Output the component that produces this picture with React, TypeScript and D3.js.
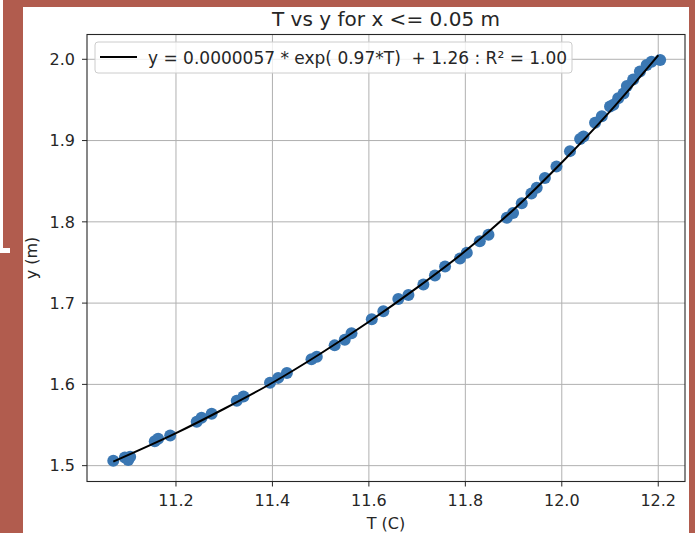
import React from "react";
import * as d3 from "d3";

// Measured temperature T (C) and height y (m)
const tempValues: number[] = [
  11.07, 11.094, 11.101, 11.105, 11.156, 11.163, 11.188, 11.243, 11.253, 11.274,
  11.326, 11.34, 11.395, 11.412, 11.43, 11.481, 11.492, 11.529, 11.55, 11.564,
  11.606, 11.63, 11.661, 11.682, 11.713, 11.737, 11.758, 11.789, 11.803, 11.83,
  11.848, 11.886, 11.899, 11.917, 11.937, 11.948, 11.965, 11.989, 12.017, 12.038,
  12.045, 12.069, 12.083, 12.1, 12.107, 12.117, 12.128, 12.135, 12.148, 12.162,
  12.176, 12.186, 12.204,
];
const heightValues: number[] = [
  1.506, 1.51, 1.507, 1.511, 1.53, 1.533, 1.537, 1.554, 1.559, 1.564,
  1.58, 1.585, 1.602, 1.608, 1.614, 1.631, 1.634, 1.648, 1.655, 1.663,
  1.68, 1.69, 1.705, 1.71, 1.723, 1.734, 1.745, 1.755, 1.762, 1.776,
  1.784, 1.805, 1.811, 1.823, 1.835, 1.842, 1.854, 1.868, 1.887, 1.902,
  1.905, 1.922, 1.93, 1.942, 1.944, 1.952, 1.958, 1.967, 1.975, 1.985,
  1.993, 1.997, 1.999,
];

// Exponential fit curve, sampled
const fitTemp: number[] = [11.07, 11.2, 11.3, 11.4, 11.5, 11.6, 11.7, 11.8, 11.9, 12.0, 12.1, 12.2];
const fitHeight: number[] = [1.505, 1.54, 1.57, 1.602, 1.638, 1.677, 1.719, 1.764, 1.815, 1.873, 1.936, 2.005];

const xTicks: number[] = [11.2, 11.4, 11.6, 11.8, 12.0, 12.2];
const yTicks: number[] = [1.5, 1.6, 1.7, 1.8, 1.9, 2.0];

const titleText = "T vs y for x <= 0.05 m";
const legendText = "y = 0.0000057 * exp( 0.97*T)  + 1.26 : R\u00b2 = 1.00";
const xLabel = "T (C)";
const yLabel = "y (m)";

const W = 695;
const H = 533;
const plot = { left: 87, right: 685, top: 34.5, bottom: 481.5 };
const font = "'DejaVu Sans', sans-serif";
const ink = "#262626";

export default function App() {
  const x = d3.scaleLinear().domain([11.0155, 12.2555]).range([plot.left, plot.right]);
  const y = d3.scaleLinear().domain([1.4805, 2.0305]).range([plot.bottom, plot.top]);

  const points = tempValues.map((t, i) => ({ t, h: heightValues[i] }));
  const fit = fitTemp.map((t, i) => [t, fitHeight[i]] as [number, number]);
  const line = d3
    .line<[number, number]>()
    .x((d) => x(d[0]))
    .y((d) => y(d[1]))
    .curve(d3.curveMonotoneX);

  const cx = (plot.left + plot.right) / 2;
  const cy = (plot.top + plot.bottom) / 2;

  return (
    <svg
      width={W}
      height={H}
      style={{ position: "fixed", left: 0, top: 0, display: "block" }}
      fontFamily={font}
    >
      <rect x={0} y={0} width={W} height={H} fill="#b15c4e" />
      <rect x={0} y={0} width={3} height={250} fill="#ffffff" />
      <rect x={0} y={248} width={10} height={5} fill="#ffffff" />
      <rect x={23} y={7} width={666} height={H - 7} fill="#ffffff" />

      {/* grid */}
      <g stroke="#b0b0b0" strokeWidth={1}>
        {xTicks.map((t) => (
          <line key={"gx" + t} x1={x(t)} x2={x(t)} y1={plot.top} y2={plot.bottom} />
        ))}
        {yTicks.map((t) => (
          <line key={"gy" + t} x1={plot.left} x2={plot.right} y1={y(t)} y2={y(t)} />
        ))}
      </g>

      {/* scatter */}
      <g fill="#3a77b3">
        {points.map((p, i) => (
          <circle key={i} cx={x(p.t)} cy={y(p.h)} r={6} />
        ))}
      </g>

      {/* fit */}
      <path d={line(fit) || ""} fill="none" stroke="#000000" strokeWidth={2} />

      {/* frame */}
      <rect
        x={plot.left}
        y={plot.top}
        width={plot.right - plot.left}
        height={plot.bottom - plot.top}
        fill="none"
        stroke={ink}
        strokeWidth={1.1}
      />

      {/* x axis */}
      <g fill={ink} fontSize={16} textAnchor="middle">
        {xTicks.map((t) => (
          <g key={"xt" + t}>
            <line x1={x(t)} x2={x(t)} y1={plot.bottom} y2={plot.bottom + 5} stroke={ink} />
            <text x={x(t)} y={506}>
              {d3.format(".1f")(t)}
            </text>
          </g>
        ))}
        <text x={cx} y={529}>{xLabel}</text>
      </g>

      {/* y axis */}
      <g fill={ink} fontSize={16} textAnchor="end">
        {yTicks.map((t) => (
          <g key={"yt" + t}>
            <line x1={plot.left - 5} x2={plot.left} y1={y(t)} y2={y(t)} stroke={ink} />
            <text x={plot.left - 12} y={y(t)} dy="0.36em">
              {d3.format(".1f")(t)}
            </text>
          </g>
        ))}
        <text transform={`translate(37, ${cy}) rotate(-90)`} textAnchor="middle">
          {yLabel}
        </text>
      </g>

      {/* title */}
      <text
        x={cx}
        y={26}
        textAnchor="middle"
        fontSize={19}
        fill={ink}
        textLength={228}
        lengthAdjust="spacingAndGlyphs"
      >
        {titleText}
      </text>

      {/* legend */}
      <g>
        <rect
          x={95}
          y={42}
          width={477}
          height={31}
          rx={3}
          fill="#ffffff"
          fillOpacity={0.8}
          stroke="#cccccc"
          strokeWidth={1}
        />
        <line x1={100} x2={137} y1={57} y2={57} stroke="#000" strokeWidth={2} />
        <text x={148} y={63.5} fontSize={17} fill={ink} style={{ whiteSpace: "pre" }}>
          {legendText}
        </text>
      </g>
    </svg>
  );
}
